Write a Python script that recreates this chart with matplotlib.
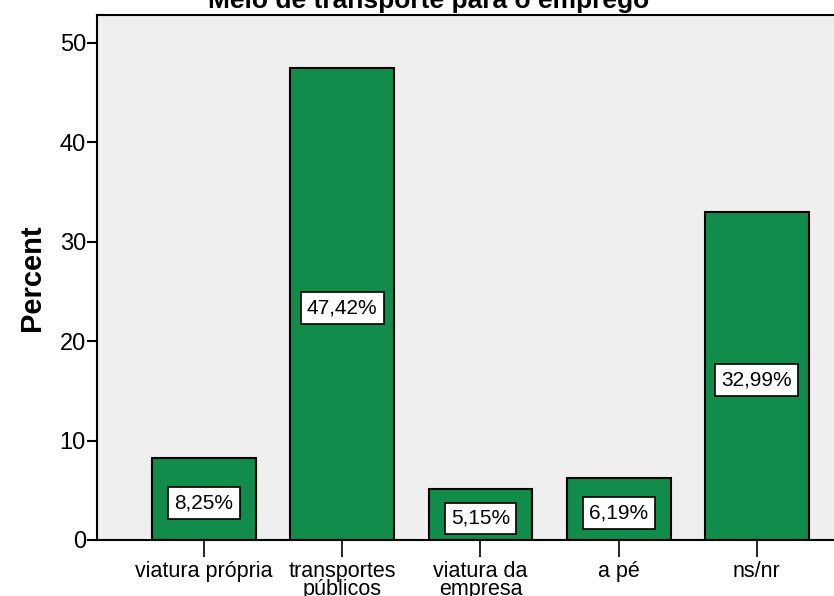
import matplotlib.pyplot as plt

# dados
categorias = ["viatura própria", "transportes\npúblicos", "viatura da\nempresa", "a pé", "ns/nr"]
percentagens = [8.25, 47.42, 5.15, 6.19, 32.99]
rotulos = ["8,25%", "47,42%", "5,15%", "6,19%", "32,99%"]

plt.rcParams['font.family'] = ['Liberation Sans', 'DejaVu Sans']

W, H = 834, 596
fig = plt.figure(figsize=(W / 100, H / 100), dpi=100)

# eixo vai além da margem direita (imagem recortada)
left, right, top, bottom = 97, 864, 15, 540
ax = fig.add_axes([left / W, 1 - bottom / H, (right - left) / W, (bottom - top) / H])
ax.set_facecolor("#EFEFEF")

x = range(len(categorias))
ax.bar(x, percentagens, width=0.75, color="#128C4A", edgecolor="black", linewidth=1.5, zorder=2)

for i, (v, r) in enumerate(zip(percentagens, rotulos)):
    ax.text(i, v / 2 - 0.4, r, ha="center", va="center", fontsize=15, zorder=3,
            bbox=dict(boxstyle="square,pad=0.3", facecolor="white", edgecolor="black", linewidth=1.2))

ax.set_xlim(-0.775, 4.775)
ax.set_ylim(0, 52.8)
ax.set_yticks([0, 10, 20, 30, 40, 50])
ax.set_xticks(list(x))
ax.set_xticklabels(categorias, fontsize=15.5, linespacing=0.85)
ax.tick_params(axis="y", direction="out", length=7, width=1.5, labelsize=17, pad=1)
ax.tick_params(axis="x", direction="out", length=12, width=1.2, pad=3)

for s in ax.spines.values():
    s.set_linewidth(1.5)

ax.set_ylabel("Percent", fontsize=21, fontweight="bold", labelpad=10)
fig.text(429 / W, 1 - 8 / H, "Meio de transporte para o emprego", ha="center", va="baseline",
         fontsize=19, fontweight="bold")

fig.savefig("out.png", dpi=100)
